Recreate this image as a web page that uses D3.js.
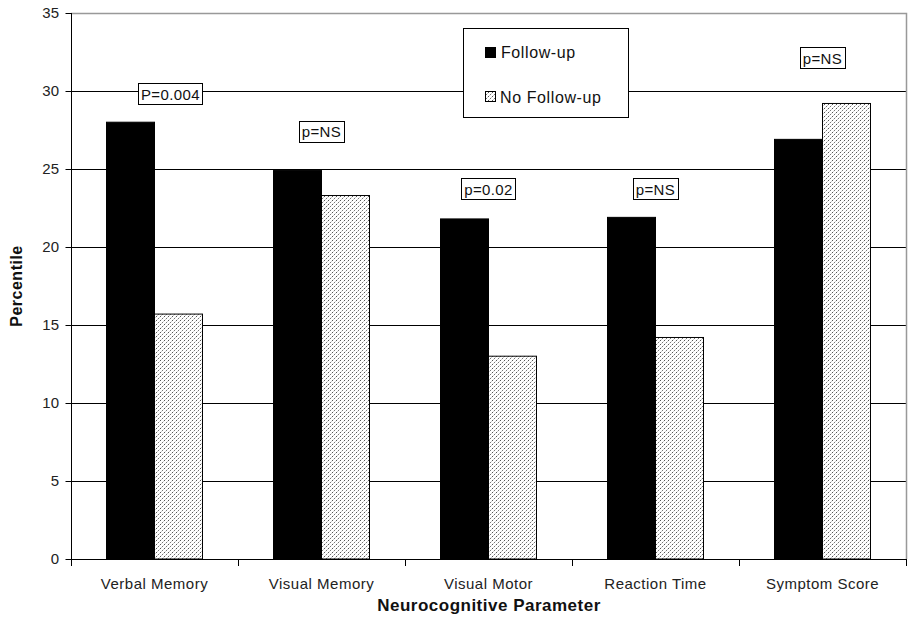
<!DOCTYPE html>
<html><head><meta charset="utf-8">
<script src="https://cdn.jsdelivr.net/npm/d3@7"></script>
<style>body{margin:0;background:#fff}svg{display:block;font-family:"Liberation Sans",Arial,sans-serif}</style>
</head><body><svg id="c" width="913" height="628"></svg>
<script>
const categories = ["Verbal Memory","Visual Memory","Visual Motor","Reaction Time","Symptom Score"];
const seriesNames = ["Follow-up","No Follow-up"];
const followUp = [28.0, 24.9, 21.8, 21.9, 26.9];
const noFollowUp = [15.7, 23.3, 13.0, 14.2, 29.2];
const pLabels = ["P=0.004","p=NS","p=0.02","p=NS","p=NS"];
const pLabelY = [29.8, 27.4, 23.7, 23.7, 32.1];
const yTicks = [0,5,10,15,20,25,30,35];

const svg = d3.select("#c");
const m = {l:71, r:906, t:13, b:559};
const x = d3.scaleBand().domain(categories).range([m.l, m.r]);
const y = d3.scaleLinear().domain([0,35]).range([m.b, m.t]);
const barW = 48;
const FONT = "Liberation Sans, Arial, sans-serif";

const defs = svg.append("defs");
const pat = defs.append("pattern").attr("id","stip").attr("patternUnits","userSpaceOnUse").attr("width",4).attr("height",4);
pat.append("rect").attr("width",4).attr("height",4).attr("fill","#fff");
pat.append("rect").attr("x",0).attr("y",0).attr("width",1).attr("height",1).attr("fill","#555");
pat.append("rect").attr("x",2).attr("y",2).attr("width",1).attr("height",1).attr("fill","#777");
pat.append("rect").attr("x",1).attr("y",3).attr("width",1).attr("height",1).attr("fill","#d0d0d0");
pat.append("rect").attr("x",3).attr("y",1).attr("width",1).attr("height",1).attr("fill","#d0d0d0");

// gridlines
svg.append("g").selectAll("line").data(yTicks.filter(d=>d>0 && d<35)).join("line")
  .attr("x1",m.l).attr("x2",m.r).attr("y1",d=>Math.round(y(d))+0.5).attr("y2",d=>Math.round(y(d))+0.5)
  .attr("stroke","#000").attr("stroke-width",1);
// top & right border
svg.append("path").attr("d",`M${m.l},${m.t+0.5}H${m.r+0.5}V${m.b}`).attr("fill","none").attr("stroke","#999").attr("stroke-width",1.5);

// bars
const g = svg.append("g");
categories.forEach((c,i)=>{
  const cx = x(c) + x.bandwidth()/2;
  g.append("rect").attr("x",cx-barW).attr("y",y(followUp[i])).attr("width",barW).attr("height",y(0)-y(followUp[i]))
    .attr("fill","#000").attr("stroke","#000");
  g.append("rect").attr("x",cx).attr("y",y(noFollowUp[i])).attr("width",barW).attr("height",y(0)-y(noFollowUp[i]))
    .attr("fill","url(#stip)").attr("stroke","#000").attr("stroke-width",1);
});

// axes
const ya = svg.append("g").attr("transform",`translate(${m.l+0.5},0)`)
  .call(d3.axisLeft(y).tickValues(yTicks).tickSize(6).tickPadding(6));
ya.select(".domain").attr("stroke","#000").attr("d",`M0,${m.t}V${m.b}`);
ya.selectAll("text").attr("font-size",15).attr("letter-spacing",0.3).attr("fill","#222").attr("font-family",FONT);
ya.selectAll("line").attr("stroke","#000");

const xa = svg.append("g").attr("transform",`translate(0,${m.b+0.5})`)
  .call(d3.axisBottom(x).tickSize(0).tickPadding(19));
xa.select(".domain").attr("stroke","#000").attr("d",`M${m.l},0H${m.r}`);
xa.selectAll("text").attr("font-size",15).attr("letter-spacing",0.5).attr("fill","#222").attr("font-family",FONT);
// category boundary ticks
svg.append("g").selectAll("line").data(categories.concat(["end"])).join("line")
  .attr("x1",(d,i)=>Math.round(m.l + i*x.bandwidth())+0.5).attr("x2",(d,i)=>Math.round(m.l + i*x.bandwidth())+0.5)
  .attr("y1",m.b).attr("y2",m.b+7).attr("stroke","#000");

// p labels
const pg = svg.append("g");
categories.forEach((c,i)=>{
  const cx = x(c) + x.bandwidth()/2 + (i===0?16:0);
  const box = pg.append("rect");
  const t = pg.append("text").attr("x",cx).attr("y",y(pLabelY[i])).attr("text-anchor","middle")
    .attr("dominant-baseline","central").attr("font-size",15).attr("letter-spacing",0.4).attr("fill","#111").text(pLabels[i]);
  const bb = t.node().getBBox();
  box.attr("x",Math.round(bb.x-3)+0.5).attr("y",Math.round(y(pLabelY[i])-11)+0.5).attr("width",Math.round(bb.width+5)).attr("height",21)
    .attr("fill","#fff").attr("stroke","#000").attr("stroke-width",1);
});

// legend
const lg = svg.append("g");
lg.append("rect").attr("x",463.5).attr("y",28.5).attr("width",165).attr("height",89).attr("fill","#fff").attr("stroke","#000");
lg.append("rect").attr("x",485).attr("y",47).attr("width",11).attr("height",11).attr("fill","#000");
lg.append("rect").attr("x",485.5).attr("y",91.5).attr("width",10).attr("height",10).attr("fill","url(#stip)").attr("stroke","#000");
lg.append("text").attr("x",501).attr("y",52).attr("dominant-baseline","central").attr("font-size",16).attr("letter-spacing",0.6).attr("fill","#111").text(seriesNames[0]);
lg.append("text").attr("x",500).attr("y",97).attr("dominant-baseline","central").attr("font-size",16).attr("letter-spacing",0.6).attr("fill","#111").text(seriesNames[1]);

// axis titles
svg.append("text").attr("transform","translate(22,286) rotate(-90)").attr("text-anchor","middle")
  .attr("font-size",16).attr("font-weight","bold").attr("letter-spacing",0.5).attr("fill","#111").text("Percentile");
svg.append("text").attr("x",489).attr("y",611).attr("text-anchor","middle")
  .attr("font-size",17).attr("font-weight","bold").attr("letter-spacing",0.5).attr("fill","#111").text("Neurocognitive Parameter");
</script></body></html>
